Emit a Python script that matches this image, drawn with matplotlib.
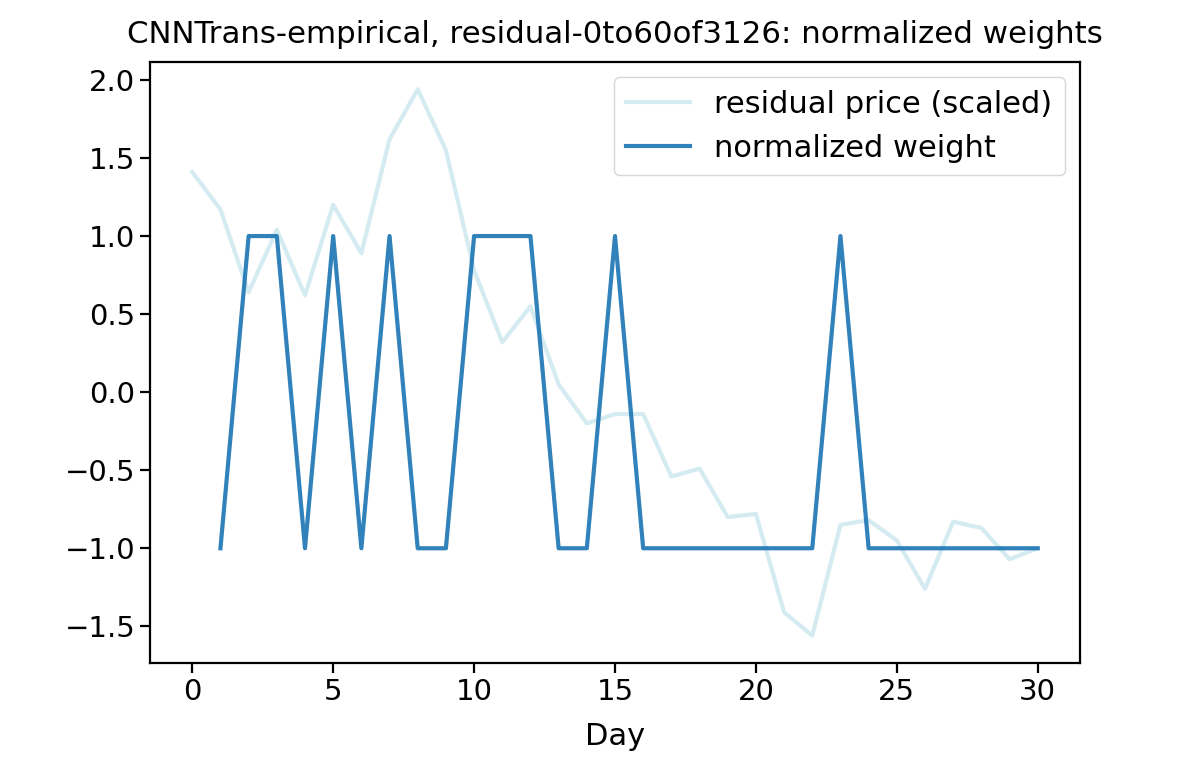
import numpy as np
import matplotlib
matplotlib.use("Agg")
import matplotlib.pyplot as plt

# residual price (scaled), days 0..30
price_days = list(range(0, 31))
price = [1.41, 1.17, 0.64, 1.04, 0.62, 1.20, 0.89, 1.62, 1.94, 1.55,
         0.78, 0.32, 0.55, 0.05, -0.20, -0.14, -0.14, -0.54, -0.49, -0.80,
         -0.78, -1.41, -1.56, -0.85, -0.82, -0.95, -1.26, -0.83, -0.87, -1.07,
         -1.00]

# normalized weight, days 1..30
weight_days = list(range(1, 31))
weight = [-1, 1, 1, -1, 1, -1, 1, -1, -1, 1,
          1, 1, -1, -1, 1, -1, -1, -1, -1, -1,
          -1, -1, 1, -1, -1, -1, -1, -1, -1, -1]

fs = 21

fig = plt.figure(figsize=(11.96, 7.62), dpi=100)
ax = fig.add_axes([150/1196, (762-663)/762, (1080-150)/1196, (663-62)/762])

ax.plot(price_days, price, color="lightblue", alpha=0.5, lw=3.0,
        label="residual price (scaled)")
ax.plot(weight_days, weight, color="#1f77b4", alpha=0.92, lw=3.0,
        label="normalized weight")

ax.set_title("CNNTrans-empirical, residual-0to60of3126: normalized weights",
             fontsize=22.2, pad=14)
ax.set_xlabel("Day", fontsize=22, labelpad=12)
ax.tick_params(labelsize=fs, length=7, width=1.6)
for s in ax.spines.values():
    s.set_linewidth(1.6)
ax.legend(loc="upper right", fontsize=22, handlelength=2.1)

fig.savefig("out.png", dpi=100)
